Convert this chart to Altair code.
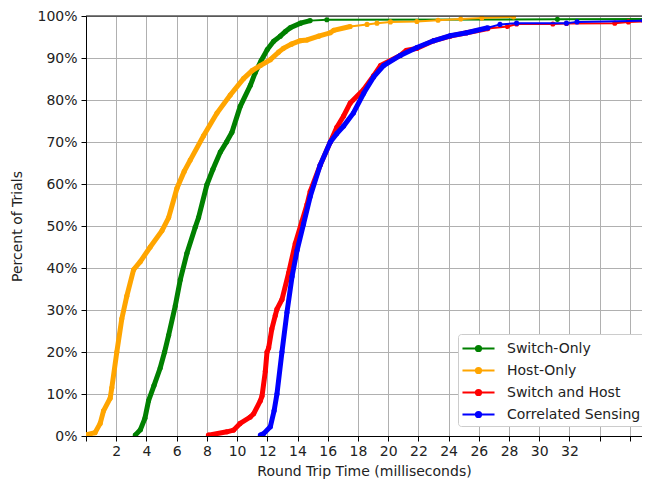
import altair as alt
import pandas as pd

series_names = ["Switch-Only", "Host-Only", "Switch and Host", "Correlated Sensing"]
series_colors = ["green", "orange", "red", "blue"]

green_x = [3.26, 3.6, 3.9, 4.14, 4.5, 4.91, 5.2, 5.47, 5.91, 6.24, 6.68, 7.23, 7.45, 8.0, 8.4, 8.89, 9.3, 9.66, 10.21, 10.88, 11.2, 11.6, 12.0, 12.42, 12.86, 13.2, 13.52, 14.2, 14.84, 15.94, 31.2, 38.0]
green_y = [0.2, 1.5, 4.2, 8.4, 12.0, 16.2, 20.0, 24.0, 31.0, 37.2, 43.5, 49.7, 52.0, 59.8, 63.5, 67.6, 70.0, 72.3, 78.5, 83.5, 86.5, 89.4, 92.0, 94.0, 95.2, 96.3, 97.2, 98.3, 98.9, 99.1, 99.2, 99.3]

orange_x = [0.05, 0.6, 0.94, 1.16, 1.6, 1.71, 2.04, 2.37, 2.7, 3.15, 3.59, 4.25, 5.03, 5.47, 6.02, 6.5, 6.9, 7.78, 8.67, 9.55, 10.43, 11.0, 11.54, 12.2, 12.75, 13.07, 13.6, 14.17, 14.62, 15.4, 16.17, 16.4, 17.49, 18.6, 19.26, 20.15, 21.9, 23.3, 24.8, 26.2, 28.3]
orange_y = [0.3, 0.8, 3.0, 6.0, 9.0, 11.5, 20.0, 27.9, 33.3, 39.6, 41.5, 45.0, 48.9, 52.0, 59.0, 63.0, 65.7, 71.5, 76.9, 81.2, 85.1, 87.0, 88.2, 89.6, 91.4, 92.3, 93.3, 94.1, 94.3, 95.2, 96.0, 96.6, 97.5, 98.0, 98.3, 98.6, 98.7, 99.0, 99.3, 99.5, 99.8]

red_x = [8.1, 9.33, 9.77, 10.2, 10.87, 11.1, 11.54, 11.65, 11.87, 11.98, 12.09, 12.3, 12.53, 12.64, 12.97, 13.41, 13.85, 14.3, 14.63, 14.84, 15.5, 16.17, 16.6, 17.05, 17.49, 18.38, 19.04, 19.5, 20.8, 21.2, 21.9, 23.0, 24.1, 25.2, 26.6, 27.9, 28.5, 30.9, 31.8, 35.0, 35.9, 38.0]
red_y = [0.2, 1.0, 1.4, 3.0, 4.5, 5.3, 8.4, 9.5, 15.4, 20.0, 21.0, 25.5, 28.7, 30.2, 32.5, 38.8, 45.8, 51.2, 55.1, 58.2, 64.5, 70.0, 73.5, 76.2, 79.3, 82.5, 85.8, 88.2, 90.6, 91.8, 92.3, 94.1, 95.2, 96.0, 97.0, 97.5, 98.1, 98.1, 98.2, 98.3, 98.6, 98.8]

blue_x = [11.54, 11.74, 12.2, 12.45, 12.64, 12.97, 13.3, 13.64, 13.97, 14.4, 14.84, 15.5, 16.17, 16.6, 17.05, 17.7, 18.38, 19.04, 19.7, 20.8, 21.9, 23.0, 24.1, 25.2, 26.6, 27.4, 28.5, 31.8, 32.5, 36.9]
blue_y = [0.2, 0.5, 2.2, 6.0, 10.0, 20.0, 29.4, 38.0, 44.2, 50.5, 57.0, 64.5, 70.0, 72.0, 73.8, 76.9, 81.6, 85.5, 88.2, 90.6, 92.5, 94.1, 95.3, 96.0, 97.2, 98.0, 98.3, 98.3, 98.6, 98.9]

dense_until = [15.0, 17.5, 27.0, 27.0]

x_ticks = list(range(0, 37, 2))
y_ticks = list(range(0, 101, 10))

xs = [green_x, orange_x, red_x, blue_x]
ys = [green_y, orange_y, red_y, blue_y]

W, H = 556, 420
FONT = "DejaVu Sans"

x_scale = alt.Scale(domain=[0, 36.8], nice=False, zero=False)
y_scale = alt.Scale(domain=[0, 100], nice=False)
color_scale = alt.Scale(domain=series_names, range=series_colors)

x_axis = alt.Axis(values=x_ticks,
                  labelExpr="datum.value >= 2 && datum.value <= 32 ? datum.value : ''",
                  title="Round Trip Time (milliseconds)",
                  grid=True, gridColor="#b0b0b0", gridWidth=1,
                  domainColor="#000000", tickColor="#000000", tickSize=5,
                  labelPadding=3, labelFontSize=14, labelFont=FONT, labelColor="#222222",
                  titleFontSize=14, titleFont=FONT, titleFontWeight="normal",
                  titleColor="#222222", titlePadding=6, labelFlush=False, labelOverlap=False)
y_axis = alt.Axis(values=y_ticks, labelExpr="datum.value + '%'",
                  title="Percent of Trials",
                  grid=True, gridColor="#b0b0b0", gridWidth=1,
                  domainColor="#000000", tickColor="#000000", tickSize=5,
                  labelPadding=4, labelFontSize=14, labelFont=FONT, labelColor="#222222",
                  titleFontSize=14, titleFont=FONT, titleFontWeight="normal",
                  titleColor="#222222", titlePadding=12, labelFlush=False, labelOverlap=False)

legend = alt.Legend(title=None, orient="none", legendX=372, legendY=318,
                    symbolType="M-1.78,0L1.78,0M-0.28,0A0.28,0.28,0,1,1,0.28,0A0.28,0.28,0,1,1,-0.28,0",
                    symbolStrokeWidth=2.2, symbolSize=324,
                    symbolOffset=6,
                    labelFontSize=14, labelFont=FONT, labelColor="#222222",
                    labelOffset=18, rowPadding=4, padding=4,
                    fillColor="white", strokeColor="#cccccc", cornerRadius=3)

layers = []
for i, name in enumerate(series_names):
    df = pd.DataFrame({"x": xs[i], "y": ys[i]})
    df["series"] = name
    df["dense"] = df["x"] <= dense_until[i]
    base = alt.Chart(df).encode(
        x=alt.X("x:Q", scale=x_scale, axis=x_axis),
        y=alt.Y("y:Q", scale=y_scale, axis=y_axis),
        color=alt.Color("series:N", scale=color_scale, sort=series_names, legend=legend),
    )
    thick = base.transform_filter("datum.dense").mark_line(strokeWidth=5, clip=True)
    thin = base.mark_line(strokeWidth=2, clip=True)
    pts = base.mark_circle(size=26, opacity=1, clip=True)
    layers += [thick, thin, pts]

top_border = alt.Chart(pd.DataFrame({"a": [0]})).mark_rule(color="#000000", strokeWidth=1).encode(
    x=alt.value(0), x2=alt.value(W), y=alt.value(0))
layers.append(top_border)

chart = alt.layer(*layers).properties(
    width=W, height=H,
    autosize=alt.AutoSizeParams(type="none"),
    padding={"left": 78, "top": 8, "right": 0, "bottom": 44},
).configure_view(stroke=None).configure(background="white")

chart.save("out.html", embed_options={"renderer": "svg", "actions": False})
